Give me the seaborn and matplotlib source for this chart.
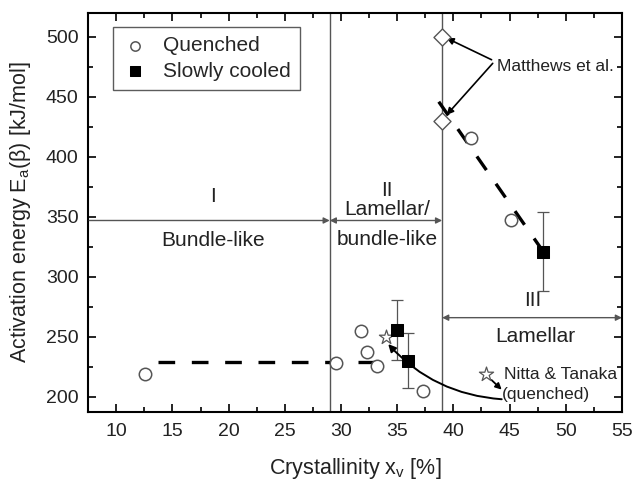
import numpy as np
import pandas as pd
import seaborn as sns
import matplotlib.pyplot as plt
from matplotlib.patches import FancyArrowPatch

# data
quenched_x = [12.6, 29.6, 31.8, 32.3, 33.2, 37.3, 41.6, 45.1]
quenched_y = [219, 228, 255, 237, 226, 205, 416, 347]

cooled_x = [35.0, 36.0, 48.0]
cooled_y = [256, 230, 321]
cooled_err = [25, 23, 33]

matthews_x = [39.0, 39.0]
matthews_y = [500, 430]

nitta_x = [34.0]
nitta_y = [250]

fit1_x = [13.7, 33.6]
fit1_y = [229, 229]
fit2_x = [38.7, 48.0]
fit2_y = [446, 321]

region_bounds = [29, 39]

sns.set_theme(style='ticks')
plt.rcParams['font.family'] = ['Liberation Sans', 'DejaVu Sans']
plt.rcParams['mathtext.default'] = 'regular'

fig = plt.figure(figsize=(6.34, 4.8), dpi=100)
ax = fig.add_axes([0.139, 0.142, 0.842, 0.831])

gray = '#555555'
txt = '#222222'

# region dividers
for xb in region_bounds:
    ax.axvline(xb, color=gray, lw=1.0, zorder=1)

# dashed guide lines
ax.plot(fit1_x, fit1_y, color='black', lw=2.4, ls=(0, (5.0, 5.0)), zorder=2)
ax.plot(fit2_x, fit2_y, color='black', lw=2.4, ls=(0, (5.0, 5.0)), zorder=2)

# error bars for slowly cooled
ax.errorbar(cooled_x, cooled_y, yerr=cooled_err, fmt='none', ecolor=gray,
            elinewidth=0.9, capsize=4, capthick=0.9, zorder=3)

qdf = pd.DataFrame({'x': quenched_x, 'y': quenched_y})
cdf = pd.DataFrame({'x': cooled_x, 'y': cooled_y})
sns.scatterplot(data=qdf, x='x', y='y', marker='o', s=80, facecolor='white',
                edgecolor=gray, linewidth=1.1, label='Quenched', ax=ax, zorder=4)
sns.scatterplot(data=cdf, x='x', y='y', marker='s', s=85, color='black',
                edgecolor='black', label='Slowly cooled', ax=ax, zorder=5)
ax.scatter(matthews_x, matthews_y, marker='D', s=75, facecolor='white',
           edgecolor=gray, linewidth=1.0, zorder=4)
ax.scatter(nitta_x, nitta_y, marker='*', s=115, facecolor='white',
           edgecolor=gray, linewidth=0.9, zorder=4)
ax.scatter([42.9], [219], marker='*', s=115, facecolor='white',
           edgecolor=gray, linewidth=0.9, zorder=4)

# region arrows
arrow_kw = dict(color=gray, lw=1.0, mutation_scale=9, shrinkA=0, shrinkB=0)
ax.annotate('', xy=(29, 347), xytext=(7.6, 347), arrowprops=dict(arrowstyle='-|>', **arrow_kw))
ax.annotate('', xy=(39, 347), xytext=(29, 347), arrowprops=dict(arrowstyle='<|-|>', **arrow_kw))
ax.annotate('', xy=(55, 266), xytext=(39, 266), arrowprops=dict(arrowstyle='<|-|>', **arrow_kw))

fs = 15
ax.text(18.6, 367, 'I', ha='center', va='center', fontsize=fs, color=txt)
ax.text(18.6, 330, 'Bundle-like', ha='center', va='center', fontsize=fs, color=txt)
ax.text(34.1, 372, 'II', ha='center', va='center', fontsize=fs, color=txt)
ax.text(34.1, 356, 'Lamellar/', ha='center', va='center', fontsize=fs, color=txt)
ax.text(34.1, 331, 'bundle-like', ha='center', va='center', fontsize=fs, color=txt)
ax.text(47.1, 280, 'III', ha='center', va='center', fontsize=fs, color=txt)
ax.text(47.3, 250, 'Lamellar', ha='center', va='center', fontsize=fs, color=txt)

# Matthews annotation
ax.text(43.9, 475, 'Matthews et al.', ha='left', va='center', fontsize=12.5, color=txt)
ax.annotate('', xy=(39.4, 499), xytext=(43.4, 481),
            arrowprops=dict(arrowstyle='-|>', color='black', lw=1.2,
                            mutation_scale=10, shrinkA=0, shrinkB=0))
ax.annotate('', xy=(39.4, 435), xytext=(43.5, 478),
            arrowprops=dict(arrowstyle='-|>', color='black', lw=1.2,
                            mutation_scale=10, shrinkA=0, shrinkB=0))

# Nitta & Tanaka annotation
ax.text(44.5, 219, 'Nitta & Tanaka', ha='left', va='center', fontsize=12.5, color=txt)
ax.text(44.3, 202, '(quenched)', ha='left', va='center', fontsize=12.5, color=txt)
ax.annotate('', xy=(44.3, 206), xytext=(43.4, 214),
            arrowprops=dict(arrowstyle='-|>', color='black', lw=1.3,
                            mutation_scale=9, shrinkA=0, shrinkB=0))
arr = FancyArrowPatch((44.3, 198), (34.2, 244), connectionstyle='arc3,rad=-0.2',
                      arrowstyle='-|>', mutation_scale=11, color='black', lw=1.4,
                      shrinkA=0, shrinkB=0, zorder=6)
ax.add_patch(arr)

ax.set_xlim(7.6, 55)
ax.set_ylim(187.5, 520)
ax.set_xticks(np.arange(10, 56, 5))
ax.set_yticks(np.arange(200, 501, 50))
ax.set_xticks(np.arange(7.5, 55.1, 2.5), minor=True)
ax.set_yticks(np.arange(200, 520, 25), minor=True)
ax.tick_params(which='both', direction='in', top=True, right=True, colors='black',
               labelcolor=txt, width=1.2)
ax.tick_params(which='major', length=6, labelsize=14)
ax.tick_params(which='minor', length=3.5)
ax.tick_params(axis='x', which='major', pad=8)
ax.tick_params(axis='y', which='major', pad=7)
for sp in ax.spines.values():
    sp.set_linewidth(1.5)
    sp.set_color('black')

ax.set_xlabel('Crystallinity x$_v$ [%]', fontsize=15.5, color=txt)
ax.set_ylabel('Activation energy E$_a$(β) [kJ/mol]', fontsize=15.5, color=txt)
ax.xaxis.set_label_coords(0.5, -0.11)
ax.yaxis.set_label_coords(-0.103, 0.5)

leg = ax.legend(loc='upper left', bbox_to_anchor=(0.047, 0.965), borderaxespad=0,
                fontsize=15, frameon=True, fancybox=False, edgecolor='#333333',
                handlelength=1.2, handletextpad=0.75, borderpad=0.45,
                labelspacing=0.3, markerscale=0.75)
leg.get_frame().set_linewidth(1.0)

fig.savefig('out.png', dpi=100)
